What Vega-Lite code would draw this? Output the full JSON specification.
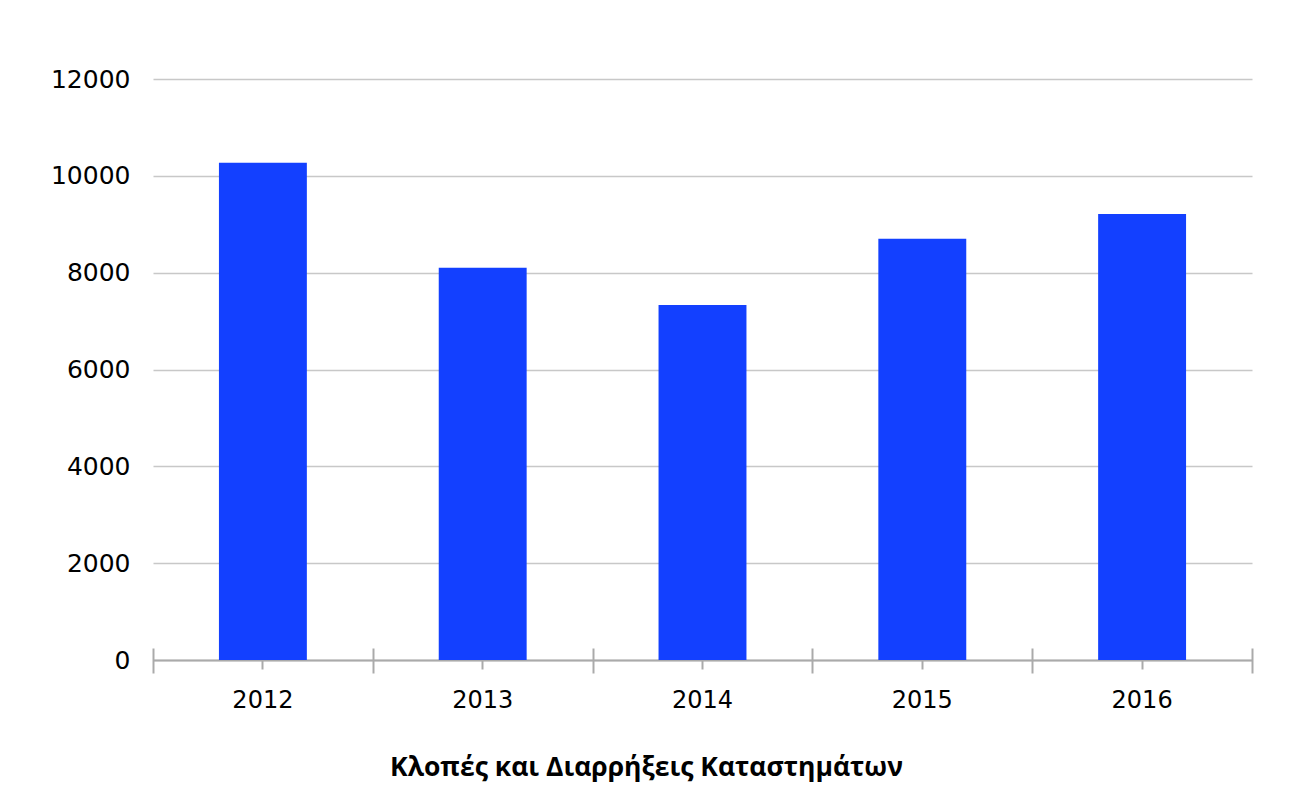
{
  "$schema": "https://vega.github.io/schema/vega-lite/v6.json",
  "width": 1099,
  "height": 581,
  "autosize": "none",
  "padding": {"left": 153, "top": 79, "right": 60, "bottom": 140},
  "background": "white",
  "config": {"view": {"stroke": null}, "font": "DejaVu Sans"},
  "data": {"values": [
    {"year": "2012", "value": 10270},
    {"year": "2013", "value": 8100},
    {"year": "2014", "value": 7330},
    {"year": "2015", "value": 8700},
    {"year": "2016", "value": 9210}
  ]},
  "encoding": {
    "y": {
      "field": "value", "type": "quantitative",
      "scale": {"domain": [0, 12000]},
      "axis": {
        "title": null,
        "values": [0, 2000, 4000, 6000, 8000, 10000, 12000],
        "format": "d",
        "labelFont": "DejaVu Sans", "labelFontSize": 25, "labelColor": "#000", "labelPadding": 23,
        "ticks": false, "domain": false,
        "gridColor": "#c8c8c8", "gridWidth": 1.5
      }
    }
  },
  "layer": [
    {
      "mark": {"type": "bar", "color": "#1340ff"},
      "encoding": {
        "x": {
          "field": "year", "type": "nominal",
          "scale": {"paddingInner": 0.6, "paddingOuter": 0.3},
          "axis": {
            "orient": "bottom",
            "title": "Κλοπές και Διαρρήξεις Καταστημάτων",
            "titleFont": "Open Sans", "titleFontSize": 26.5, "titleFontWeight": "bold", "titleColor": "#000",
            "titlePadding": 42,
            "titleX": 493, "titleAlign": "center", "titleAnchor": "start",
            "labelAngle": 0, "labelFont": "DejaVu Sans", "labelFontSize": 24, "labelColor": "#000", "labelPadding": 19,
            "tickSize": 9, "tickColor": "#aaaaaa", "tickWidth": 2,
            "domainColor": "#aaaaaa", "domainWidth": 2,
            "grid": false
          }
        }
      }
    },
    {
      "mark": {"type": "bar", "opacity": 0},
      "encoding": {
        "x": {
          "field": "year", "type": "nominal",
          "scale": {"paddingInner": 0, "paddingOuter": 0},
          "axis": {
            "orient": "bottom",
            "title": null,
            "labels": false,
            "domain": false,
            "grid": false,
            "tickBand": "extent",
            "tickSize": 25,
            "offset": -12,
            "tickColor": "#aaaaaa", "tickWidth": 2
          }
        }
      }
    }
  ],
  "resolve": {"axis": {"x": "independent"}, "scale": {"x": "independent"}}
}
